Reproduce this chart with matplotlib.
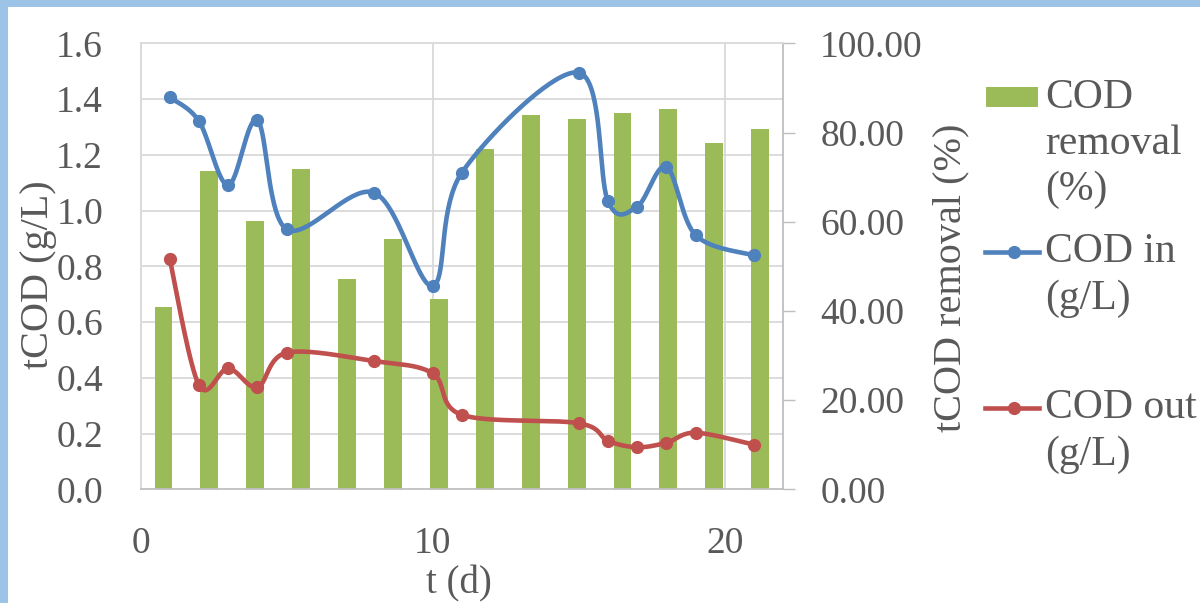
import numpy as np
import matplotlib
matplotlib.use("Agg")
import matplotlib.pyplot as plt
from matplotlib.lines import Line2D
from matplotlib.patches import Rectangle
from matplotlib.ticker import FormatStrFormatter

FONT = 'Liberation Serif'
plt.rcParams['font.family'] = FONT

# measured data
days = [1, 2, 3, 4, 5, 8, 10, 11, 15, 16, 17, 18, 19, 21]
cod_in = [1.406, 1.321, 1.091, 1.324, 0.933, 1.064, 0.730, 1.136, 1.495,
          1.034, 1.014, 1.157, 0.912, 0.839]
cod_out = [0.826, 0.374, 0.434, 0.366, 0.490, 0.460, 0.416, 0.267, 0.237,
           0.174, 0.151, 0.167, 0.203, 0.160]
removal = [40.9, 71.4, 60.2, 71.8, 47.2, 56.1, 42.7, 76.3, 83.9, 83.1,
           84.4, 85.3, 77.6, 80.8]

GREEN = '#9BBB59'
BLUE = '#4F81BD'
RED = '#C0504D'
TXT = '#595959'
GRID = '#D9D9D9'
AXLINE = '#BFBFBF'

W, H = 1200, 603


def smooth(x, y, n=40):
    # bezier smoothing like the spreadsheet "smoothed line" option
    p = np.column_stack([x, y]).astype(float)
    ext = np.vstack([p[0], p, p[-1]])
    out = []
    t = np.linspace(0, 1, n)[:, None]
    for i in range(len(p) - 1):
        p0, p1, p2, p3 = ext[i], ext[i + 1], ext[i + 2], ext[i + 3]
        c1 = p1 + (p2 - p0) / 6
        c2 = p2 - (p3 - p1) / 6
        seg = (1 - t)**3 * p1 + 3 * (1 - t)**2 * t * c1 + 3 * (1 - t) * t**2 * c2 + t**3 * p2
        out.append(seg if i == 0 else seg[1:])
    return np.vstack(out)


fig = plt.figure(figsize=(W / 100, H / 100), dpi=100)

# light blue frame on top and left
fig.add_artist(Rectangle((0, 1 - 7 / H), 1, 7 / H, transform=fig.transFigure,
                         color='#9DC3E6', lw=0))
fig.add_artist(Rectangle((0, 0), 8 / W, 1, transform=fig.transFigure,
                         color='#9DC3E6', lw=0))

ax = fig.add_axes([140.5 / W, 1 - 489.3 / H, (783.2 - 140.5) / W, (489.3 - 43.3) / H])
ax2 = ax.twinx()

# bars on the category axis (percent scale)
ncat = len(removal)
xmax = 22
cat_w = xmax / ncat
pos = (np.arange(ncat) + 0.5) * cat_w
ax.bar(pos, removal, width=cat_w * 0.39, color=GREEN, zorder=2)
ax.set_xlim(0, xmax)
ax.set_ylim(0, 100)
ax.set_xticks([0, 10, 20])
ax.set_yticks(np.arange(0, 101, 20))
ax.set_yticks(np.arange(0, 100.1, 12.5), minor=True)
ax.yaxis.set_major_formatter(FormatStrFormatter('%.2f'))
ax.yaxis.tick_right()
ax.yaxis.set_label_position('right')
ax.set_axisbelow(True)
ax.grid(axis='y', which='minor', color=GRID, lw=1.3)
ax.grid(axis='x', which='major', color=GRID, lw=1.3)
ax.grid(axis='y', which='major', visible=False)
ax.tick_params(axis='y', which='major', direction='out', length=8.6, width=1,
               color=AXLINE, pad=18, labelsize=27, labelcolor=TXT,
               labelfontfamily=FONT)
ax.tick_params(axis='y', which='minor', length=0)
ax.tick_params(axis='x', length=0, pad=27, labelsize=27, labelcolor=TXT,
               labelfontfamily=FONT)
for s in ['left', 'top']:
    ax.spines[s].set_color(GRID)
    ax.spines[s].set_linewidth(1.3)
for s in ['bottom', 'right']:
    ax.spines[s].set_color(AXLINE)
    ax.spines[s].set_linewidth(1.3)

ax.set_xlabel('t (d)', fontsize=28, color=TXT, fontfamily=FONT)
ax.xaxis.set_label_coords((459 - 140.5) / 642.7, (489.3 - 584) / 446)
ax.xaxis.label.set_verticalalignment('center')
ax.set_ylabel('tCOD removal (%)', fontsize=29, color=TXT, fontfamily=FONT)
ax.yaxis.set_label_coords((951 - 140.5) / 642.7, (489.3 - 278) / 446)
ax.yaxis.label.set_verticalalignment('center')

# concentration lines (g/L scale)
for y, c in [(cod_in, BLUE), (cod_out, RED)]:
    curve = smooth(days, y)
    ax2.plot(curve[:, 0], curve[:, 1], color=c, lw=3.3, solid_capstyle='round', zorder=3)
    ax2.plot(days, y, 'o', color=c, ms=8.5, zorder=4)
ax2.set_ylim(0, 1.6)
ax2.set_yticks(np.arange(0, 1.61, 0.2))
ax2.yaxis.set_major_formatter(FormatStrFormatter('%.1f'))
ax2.yaxis.tick_left()
ax2.yaxis.set_label_position('left')
ax2.tick_params(axis='y', length=0, pad=27, labelsize=27, labelcolor=TXT,
                labelfontfamily=FONT)
for s in ax2.spines.values():
    s.set_visible(False)
ax2.set_ylabel('tCOD (g/L)', fontsize=29, color=TXT, fontfamily=FONT)
ax2.yaxis.set_label_coords((38 - 140.5) / 642.7, (489.3 - 275) / 446)
ax2.yaxis.label.set_verticalalignment('center')


# legend at the right
def fx(px):
    return px / W


def fy(py):
    return 1 - py / H


fig.add_artist(Rectangle((fx(986), fy(107)), fx(1038) - fx(986), 20 / H,
                         transform=fig.transFigure, color=GREEN, lw=0))
fig.text(fx(1045), fy(78), 'COD\nremoval\n(%)', fontsize=30, color=TXT,
         va='top', ha='left', linespacing=1.26, fontfamily=FONT)
for yy, c, lab, ty in [(252, BLUE, 'COD in\n(g/L)', 233), (408, RED, 'COD out\n(g/L)', 389)]:
    fig.add_artist(Line2D([fx(985), fx(1039)], [fy(yy), fy(yy)], color=c, lw=3.3,
                          transform=fig.transFigure))
    fig.add_artist(Line2D([fx(1014)], [fy(yy)], marker='o', color=c, ms=8.5,
                          transform=fig.transFigure))
    fig.text(fx(1045), fy(ty), lab, fontsize=30, color=TXT, va='top', ha='left',
             linespacing=1.26, fontfamily=FONT)

fig.savefig('out.png', dpi=100)
